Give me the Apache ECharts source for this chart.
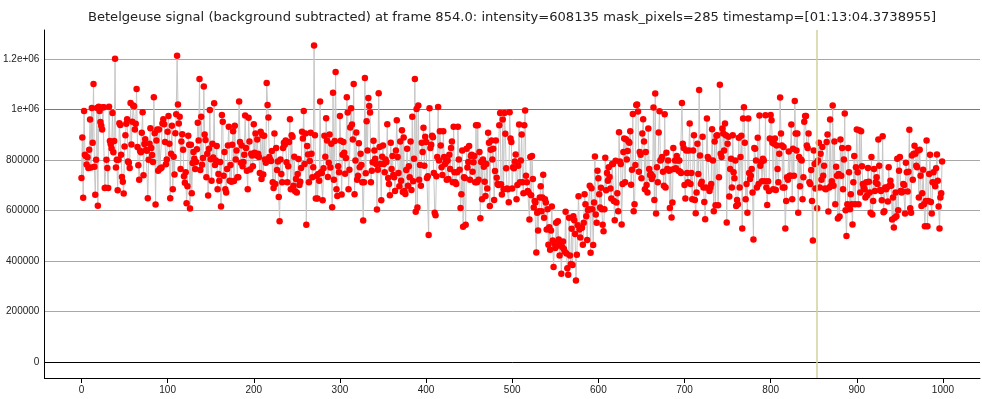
<!DOCTYPE html>
<html>
<head>
<meta charset="utf-8">
<script src="https://cdn.jsdelivr.net/npm/echarts@6/dist/echarts.min.js"></script>
<style>
html,body{margin:0;padding:0;background:#fff;}
#chart{width:982px;height:399px;}
</style>
</head>
<body>
<div id="chart"></div>
<script>
// intensity per frame, in thousands (frame = index)
var intensityK = [
728,888,650,993,820,815,782,810,768,840,960,770,1005,868,1100,773,662,800,1005,618,
1010,993,950,935,920,1008,1008,689,690,800,768,689,1010,875,862,845,985,830,875,1200,
770,800,680,800,945,938,
820,732,713,667,853,897,943,961,793,788,768,1025,861,951,1015,1012,920,943,1080,851,
779,721,836,830,907,988,739,863,881,839,836,648,800,864,925,847,819,791,
1048,905,
623,877,920,757,920,765,767,770,944,961,941,871,783,801,911,973,864,648,824,935,684,
812,742,905,980,1212,1019,944,971,764,873,901,840,735,709,751,628,695,895,860,607,860,
668,787,831,804,764,791,842,947,877,1120,760,971,781,807,1090,900,879,731,824,659,844,
997,802,717,864,809,1024,780,797,855,684,744,717,791,615,977,951,737,831,684,671,764,
857,931,717,780,713,860,913,716,935,801,837,731,
731,1031,871,788,857,775,791,820,975,847,757,684,967,873,762,824,817,775,941,828,904,
817,880,824,811,748,911,724,897,742,895,801,788,1104,1017,968,811,801,795,835,711,689,
904,704,847,760,793,653,557,801,744,711,847,868,860,877,790,711,775,871,961,684,897,
891,697,812,676,724,671,744,803,700,713,768,911,884,993,784,904,543,855,821,711,795,
907,824,731,771,1252,897,647,737,
647,744,717,1031,751,748,640,767,895,812,965,877,732,788,900,770,864,612,1065,721,875,
1148,684,657,775,751,973,876,663,820,871,828,745,807,1048,987,684,761,928,1004,940,880,
1100,664,797,908,721,737,866,771,824,780,711,560,711,1124,747,953,837,1045,1013,987,
711,757,790,876,837,804,784,603,761,1064,851,784,640,812,857,784,751,801,791,941,728,
704,660,868,764,815,740,731,677,837,957,
811,748,695,873,717,917,673,888,677,665,760,844,697,775,731,873,681,971,715,804,1120,
595,1001,611,1015,721,780,697,868,831,927,777,891,871,728,735,503,1004,847,860,895,889,
748,591,581,735,811,1009,797,913,857,771,740,913,811,784,791,721,797,724,820,764,847,
873,711,931,751,711,704,751,931,801,761,609,664,837,535,731,728,543,844,770,791,855,
721,815,820,753,790,815,711,937,
711,937,721,831,569,791,644,801,773,713,657,784,687,907,868,617,840,877,801,844,641,
756,877,729,704,700,937,985,703,663,960,684,985,903,767,687,684,632,988,884,871,687,
771,767,793,821,644,700,777,940,711,797,900,711,668,937,995,737,711,677,671,564,811,
660,815,724,611,637,631,433,591,520,597,651,695,597,651,741,571,644,631,524,604,464,
533,444,520,615,481,376,468,451,551,
460,557,485,421,471,349,455,477,447,436,595,429,371,345,571,421,388,527,384,577,561,
507,323,424,541,656,524,493,531,531,464,551,664,624,577,483,601,604,697,432,688,604,
463,631,813,584,551,757,727,664,611,690,604,543,517,604,808,680,748,717,771,732,687,
647,784,784,637,561,796,631,668,597,909,793,784,544,704,831,884,711,881,801,835,873,
868,913,701,761,981,597,624,780,1017,
1019,991,753,831,820,727,904,961,873,684,831,700,671,924,764,740,744,724,735,1007,641,
1063,588,771,711,908,992,797,801,811,753,697,980,691,828,764,797,757,609,761,572,631,
847,764,797,767,815,797,757,797,753,748,1025,864,847,700,647,837,748,711,837,944,704,
748,644,837,897,641,589,671,864,744,1076,817,704,713,891,691,633,565,691,964,811,804,
677,691,704,921,797,597,873,620,895,
897,620,731,1097,824,811,924,904,837,944,897,552,864,891,655,764,804,691,897,751,727,
797,617,641,624,887,691,811,895,528,964,1008,868,644,704,591,964,748,724,737,764,671,
485,847,844,797,691,887,704,975,777,791,715,804,797,715,976,691,621,715,677,884,977,
957,868,684,864,884,681,857,764,711,824,1047,904,857,691,851,691,528,637,731,721,833,
737,737,940,644,844,737,1033,904,837,
904,591,811,695,801,797,644,731,951,973,973,857,847,904,711,704,760,637,481,837,784,
687,788,608.135,797,868,691,824,721,851,737,777,687,684,871,900,596,691,960,697,715,
1015,697,873,624,773,737,568,744,576,880,737,847,684,801,983,601,499,624,847,751,604,
664,624,544,711,815,624,771,920,751,624,917,671,913,775,704,691,684,651,711,660,768,
713,671,591,811,584,637,764,677,711,
731,704,880,777,681,677,640,893,593,597,691,684,691,635,771,697,717,697,564,651,532,
571,671,577,804,601,757,811,677,671,675,704,700,588,788,751,675,753,919,608,591,817,
721,824,856,824,777,771,837,651,840,737,617,668,761,624,537,637,877,537,637,744,820,
633,588,711,751,708,695,767,821,717,615,528,651,668,793
];
var xTicks = [0, 100, 200, 300, 400, 500, 600, 700, 800, 900, 1000];
var yTicks = [0, 200000, 400000, 600000, 800000, 1000000, 1200000];
var markerFrame = 854;
var titleText = 'Betelgeuse signal (background subtracted) at frame 854.0: intensity=608135 mask_pixels=285 timestamp=[01:13:04.3738955]';

var points = intensityK.map(function (v, i) { return [i, Math.round(v * 1000)]; });

var myChart = echarts.init(document.getElementById('chart'), null, { renderer: 'canvas' });
var option = {
	animation: false,
	backgroundColor: '#ffffff',
	title: {
		text: titleText,
		left: 507,
		top: 6,
		textAlign: 'center',
		textStyle: { fontFamily: 'DejaVu Sans', fontSize: 13.1, fontWeight: 'normal', color: '#222222' }
	},
	grid: { left: 43, right: 2, top: 30, bottom: 21, containLabel: false },
	xAxis: {
		type: 'value',
		min: -43,
		max: 1043,
		axisLine: { show: true, onZero: false, lineStyle: { color: '#000000', width: 1 } },
		axisTick: { show: true, customValues: xTicks, length: 5, lineStyle: { color: '#000000' } },
		axisLabel: {
			customValues: xTicks,
			margin: 7,
			fontFamily: 'Liberation Sans',
			fontSize: 10,
			color: '#222222',
			formatter: function (v) { return String(v); }
		},
		splitLine: { show: false }
	},
	yAxis: {
		type: 'value',
		min: -63300,
		max: 1313800,
		axisLine: { show: true, onZero: false, lineStyle: { color: '#000000', width: 1 } },
		axisTick: { show: false, customValues: yTicks },
		axisLabel: {
			customValues: yTicks,
			margin: 5,
			fontFamily: 'Liberation Sans',
			fontSize: 10,
			color: '#222222',
			formatter: function (v) {
				if (v >= 1000000) return (v / 1000000) + 'e+06';
				return String(v);
			}
		},
		splitLine: {
			show: true,
			lineStyle: { color: ['#000000', '#a8a8a8', '#a8a8a8', '#a8a8a8', '#a8a8a8', '#7a7a7a', '#a8a8a8'], width: 1 }
		}
	},
	series: [{
		type: 'line',
		data: points,
		symbol: 'circle',
		symbolSize: 6.5,
		showAllSymbol: true,
		silent: true,
		itemStyle: { color: '#ff0000' },
		lineStyle: { color: '#c6c6c6', width: 1 },
		markLine: {
			silent: true,
			symbol: 'none',
			label: { show: false },
			lineStyle: { color: '#d2d29c', width: 1.5, type: 'solid' },
			data: [{ xAxis: markerFrame }]
		}
	}]
};
myChart.setOption(option);
</script>
</body>
</html>
